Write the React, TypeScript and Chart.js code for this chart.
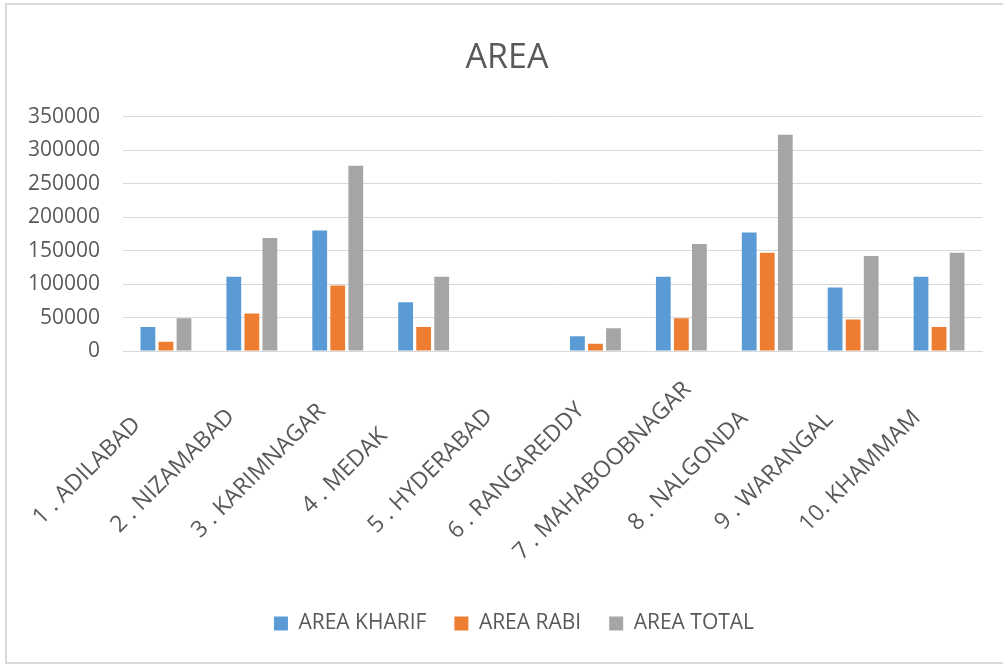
import React, { useEffect, useRef } from "react";
import { Chart, registerables } from "chart.js";

Chart.register(...registerables);

const categories = [
  "1 . ADILABAD",
  "2 . NIZAMABAD",
  "3 . KARIMNAGAR",
  "4 . MEDAK",
  "5 . HYDERABAD",
  "6 . RANGAREDDY",
  "7 . MAHABOOBNAGAR",
  "8 . NALGONDA",
  "9 . WARANGAL",
  "10. KHAMMAM",
];

const areaKharif = [36000, 111000, 180000, 73000, 0, 22000, 111000, 177000, 95000, 111000];
const areaRabi = [14000, 56000, 98000, 36000, 0, 11000, 49000, 147000, 47000, 36000];
const areaTotal = [49000, 169000, 277000, 111000, 0, 34000, 160000, 323000, 142000, 147000];

const seriesNames = ["AREA KHARIF", "AREA RABI", "AREA TOTAL"];
const seriesColors = ["#5B9BD5", "#ED7D31", "#A5A5A5"];

const yMax = 350000;
const yStep = 50000;

const FONT = "'Open Sans', 'Noto Sans', sans-serif";
const TEXT = "#595959";
const GRID = "#d9d9d9";

export default function App() {
  const ref = useRef<HTMLCanvasElement>(null);

  useEffect(() => {
    const labelPlugin = {
      id: "rotatedCategoryLabels",
      afterLayout(chart: any) {
        if (chart.legend) {
          chart.legend.left += 23;
          chart.legend.right += 23;
        }
        if (chart.titleBlock) {
          chart.titleBlock.left += 16;
          chart.titleBlock.right += 16;
        }
      },
      afterDraw(chart: any) {
        const ctx = chart.ctx;
        const xs = chart.scales.x;
        ctx.save();
        ctx.font = `23px ${FONT}`;
        ctx.fillStyle = TEXT;
        ctx.textAlign = "center";
        ctx.textBaseline = "middle";
        categories.forEach((c, i) => {
          const px = xs.getPixelForValue(i) - 79;
          const py = xs.top + 120;
          ctx.save();
          ctx.translate(px, py);
          ctx.rotate(-Math.PI / 4);
          ctx.fillText(c, 0, 0);
          ctx.restore();
        });
        ctx.restore();
      },
    };

    const values = [areaKharif, areaRabi, areaTotal];
    const chart = new Chart(ref.current!, {
      type: "bar",
      data: {
        labels: categories,
        datasets: values.map((v, i) => ({
          label: seriesNames[i],
          data: v,
          backgroundColor: seriesColors[i],
          borderWidth: 0,
          barPercentage: 0.82,
          categoryPercentage: 0.63,
        })),
      },
      options: {
        animation: false,
        responsive: false,
        maintainAspectRatio: false,
        layout: { padding: { top: 4, left: 0, right: 21, bottom: 20 } },
        plugins: {
          title: {
            display: true,
            text: "AREA",
            color: TEXT,
            font: { family: FONT, size: 34, weight: "normal" },
            padding: { top: 34, bottom: 38 },
          },
          legend: {
            position: "bottom",
            labels: {
              font: { family: FONT, size: 21 },
              color: TEXT,
              boxWidth: 14,
              boxHeight: 14,
              padding: 28,
            },
          },
          tooltip: { enabled: false },
        },
        scales: {
          x: {
            grid: { display: false },
            border: { color: GRID },
            ticks: { display: false },
            afterFit: (s: any) => {
              s.height = 234;
            },
          },
          y: {
            min: 0,
            max: yMax,
            ticks: {
              stepSize: yStep,
              font: { family: FONT, size: 21 },
              color: TEXT,
              padding: 23,
              callback: (v: any) => String(v),
            },
            grid: { color: GRID, drawTicks: false },
            border: { display: false },
            afterFit: (s: any) => {
              s.width = 123;
            },
          },
        },
      } as any,
      plugins: [labelPlugin],
    });
    return () => chart.destroy();
  }, []);

  return (
    <div style={{ position: "absolute", left: 0, top: 0, width: 1003, height: 664, background: "#fff", overflow: "hidden" }}>
      <div
        style={{
          position: "absolute",
          left: 5,
          top: 3,
          width: 1010,
          height: 657,
          border: "2px solid #d9d9d9",
        }}
      />
      <canvas
        ref={ref}
        width={1003}
        height={664}
        style={{ position: "absolute", left: 0, top: 0, width: 1003, height: 664 }}
      />
    </div>
  );
}
